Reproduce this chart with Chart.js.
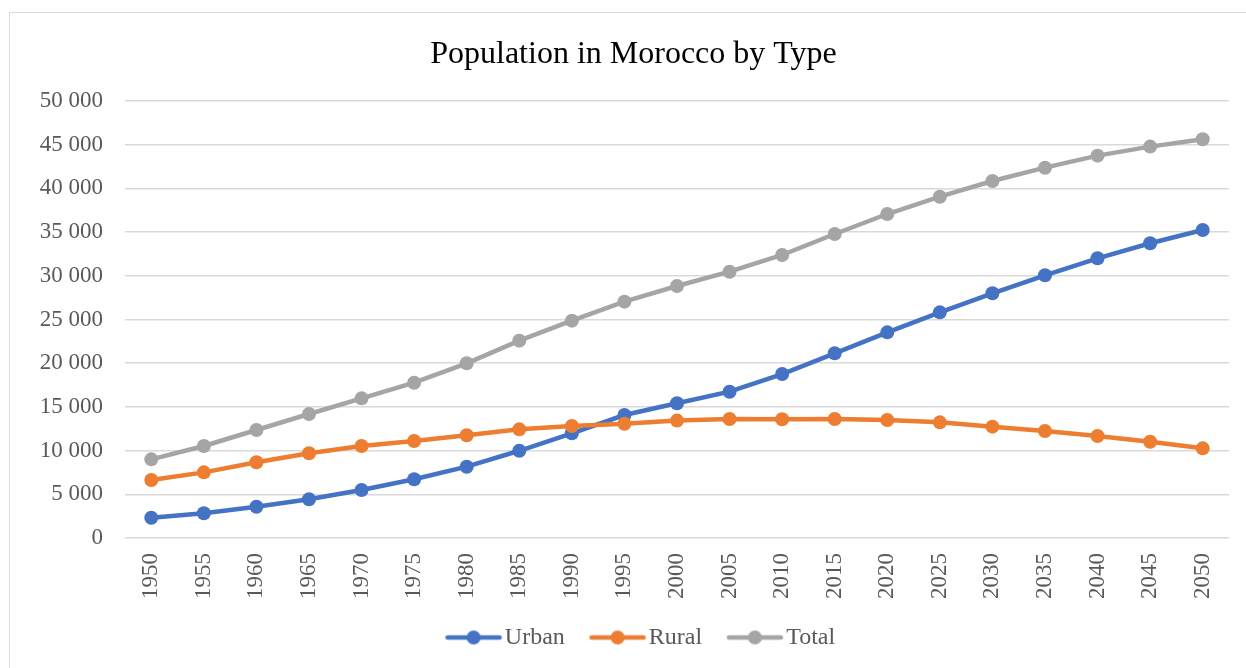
<!DOCTYPE html>
<html>
<head>
<meta charset="utf-8">
<script src="https://cdn.jsdelivr.net/npm/chart.js@4.4.1/dist/chart.umd.min.js"></script>
<style>
  html, body { margin: 0; padding: 0; background: #fff; overflow: hidden; width: 1246px; height: 668px; }
  #frame { position: absolute; left: 9px; top: 12px; width: 1260px; height: 700px; border: 1.5px solid #d9d9d9; box-sizing: border-box; }
  #wrap { position: absolute; left: 9px; top: 12px; width: 1249px; height: 656px; }
</style>
</head>
<body>
<div id="frame"></div>
<div id="wrap"><canvas id="c" width="1249" height="656"></canvas></div>
<script>
const years = ["1950","1955","1960","1965","1970","1975","1980","1985","1990","1995","2000","2005","2010","2015","2020","2025","2030","2035","2040","2045","2050"];
const urban = [2320, 2830, 3580, 4430, 5490, 6720, 8160, 9980, 11980, 14070, 15410, 16740, 18760, 21130, 23530, 25820, 28000, 30060, 32000, 33720, 35240];
const rural = [6640, 7510, 8660, 9690, 10530, 11100, 11750, 12430, 12820, 13080, 13430, 13620, 13580, 13610, 13500, 13230, 12740, 12240, 11670, 11020, 10260];
const total = [9000, 10530, 12360, 14190, 15980, 17770, 19990, 22580, 24870, 27040, 28830, 30470, 32380, 34780, 37070, 39050, 40850, 42370, 43750, 44780, 45620];
const seriesNames = ["Urban", "Rural", "Total"];
const yTicks = { min: 0, max: 50000, step: 5000 };

const colors = ["#4472C4", "#ED7D31", "#A5A5A5"];
const FONT = "'Liberation Serif', 'Times New Roman', serif";

function legendIcon(color) {
  const c = document.createElement('canvas');
  c.width = 82; c.height = 18;
  const g = c.getContext('2d');
  g.strokeStyle = color; g.lineWidth = 4.5; g.lineCap = 'round';
  g.beginPath(); g.moveTo(26.25, 9); g.lineTo(78.25, 9); g.stroke();
  g.fillStyle = color;
  g.beginPath(); g.arc(52.25, 9, 7, 0, Math.PI * 2); g.fill();
  return c;
}
const icons = colors.map(legendIcon);

function fmt(v) {
  return String(v).replace(/\B(?=(\d{3})+(?!\d))/g, ' ');
}

const values = [urban, rural, total];
const datasets = seriesNames.map((name, i) => ({
  label: name,
  data: values[i],
  borderColor: colors[i],
  backgroundColor: colors[i],
  borderWidth: 4.5,
  pointRadius: 7,
  pointHoverRadius: 7,
  pointBorderWidth: 0,
  pointBackgroundColor: colors[i],
  tension: 0,
  order: 3 - i
}));

new Chart(document.getElementById('c'), {
  type: 'line',
  data: { labels: years, datasets },
  options: {
    responsive: false,
    animation: false,
    layout: { padding: { left: 0, right: 0, top: 0, bottom: 8.5 } },
    plugins: {
      tooltip: { enabled: false },
      title: {
        display: true,
        text: 'Population in Morocco by Type',
        color: '#000',
        font: { family: FONT, size: 32, weight: 'normal', lineHeight: 1.2 },
        padding: { top: 23, bottom: 27.6 }
      },
      legend: {
        display: true,
        position: 'bottom',
        maxWidth: 1243,
        labels: {
          color: '#595959',
          font: { family: FONT, size: 24 },
          usePointStyle: true,
          pointStyleWidth: 61,
          padding: 11,
          sort: (a, b) => a.datasetIndex - b.datasetIndex,
          generateLabels: (chart) => {
            const items = Chart.defaults.plugins.legend.labels.generateLabels(chart);
            items.forEach(it => { it.pointStyle = icons[it.datasetIndex]; });
            return items;
          }
        }
      }
    },
    scales: {
      x: {
        offset: true,
        grid: { display: false, drawTicks: false },
        border: { display: false },
        ticks: {
          color: '#595959',
          font: { family: FONT, size: 23 },
          minRotation: 90, maxRotation: 90,
          padding: 15,
          autoSkip: false
        },
        afterFit: (s) => { s.height = 76.5; }
      },
      y: {
        min: yTicks.min, max: yTicks.max,
        grid: { color: '#d9d9d9', lineWidth: 1.5, drawTicks: false },
        border: { display: false },
        ticks: {
          stepSize: yTicks.step,
          color: '#595959',
          font: { family: FONT, size: 23 },
          padding: 22,
          callback: (v) => fmt(v)
        },
        afterFit: (s) => { s.width = 116; }
      },
      yRight: {
        position: 'right',
        display: true,
        min: yTicks.min, max: yTicks.max,
        grid: { display: false, drawTicks: false },
        border: { display: false },
        ticks: { display: false },
        afterFit: (s) => { s.width = 29; }
      }
    }
  }
});
</script>
</body>
</html>
